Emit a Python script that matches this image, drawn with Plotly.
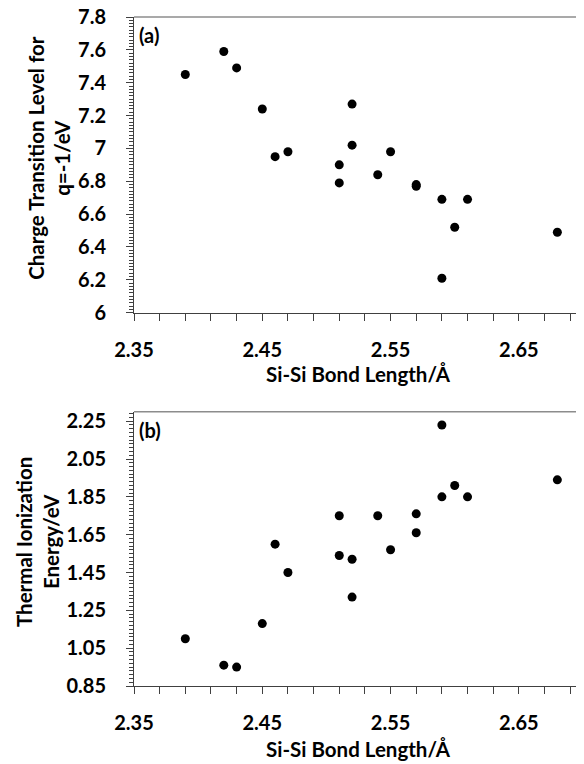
import plotly.graph_objects as go

# Si-Si bond length (Å), shared by both panels
bond_length = [2.39, 2.42, 2.43, 2.45, 2.46, 2.47, 2.51, 2.51, 2.52, 2.52,
               2.54, 2.55, 2.57, 2.57, 2.59, 2.59, 2.60, 2.61, 2.68]

# (a) charge transition level for q=-1 (eV)
transition_level = [7.45, 7.59, 7.49, 7.24, 6.95, 6.98, 6.90, 6.79, 7.27, 7.02,
                    6.84, 6.98, 6.78, 6.77, 6.69, 6.21, 6.52, 6.69, 6.49]

# (b) thermal ionization energy (eV)
ionization_energy = [1.10, 0.96, 0.95, 1.18, 1.60, 1.45, 1.75, 1.54, 1.52, 1.32,
                     1.75, 1.57, 1.76, 1.66, 2.23, 1.85, 1.91, 1.85, 1.94]

FONT = "Lato"
AXIS_COLOR = "#404040"
TICK_FONT = dict(family=FONT, size=20, color="black", weight="bold")
TITLE_FONT = dict(family=FONT, size=20.5, color="black", weight="bold")

fig = go.Figure()
fig.add_trace(go.Scatter(x=bond_length, y=transition_level, mode="markers",
                         marker=dict(color="black", size=9), xaxis="x", yaxis="y"))
fig.add_trace(go.Scatter(x=bond_length, y=ionization_energy, mode="markers",
                         marker=dict(color="black", size=9), xaxis="x2", yaxis="y2"))

xaxis_common = dict(
    range=[2.35, 2.70], tick0=2.35, dtick=0.1, tickformat=".2f",
    ticks="outside", ticklen=7, tickcolor=AXIS_COLOR,
    minor=dict(dtick=0.02, tick0=2.35, ticks="outside", ticklen=7, tickcolor=AXIS_COLOR),
    showline=True, linecolor=AXIS_COLOR, showgrid=False, zeroline=False,
    tickfont=TICK_FONT, ticklabelstandoff=12, automargin=False,
    ticklabeloverflow="allow",
)
yaxis_common = dict(
    ticks="outside", ticklen=7, tickcolor=AXIS_COLOR,
    showline=True, linecolor=AXIS_COLOR, showgrid=False, zeroline=False,
    tickfont=TICK_FONT, ticklabelstandoff=16, automargin=False,
    ticklabeloverflow="allow",
)

# the page body has an 8px default margin, so the figure is 8px smaller
fig.update_layout(
    width=576, height=756,
    margin=dict(l=126, r=1, t=9, b=78),
    paper_bgcolor="white", plot_bgcolor="white",
    showlegend=False,
    xaxis=dict(xaxis_common, anchor="y"),
    yaxis=dict(yaxis_common, domain=[0.558, 1], range=[6, 7.8], dtick=0.2,
               tickformat="~g",
               minor=dict(dtick=0.02, ticks="outside", ticklen=4, tickcolor=AXIS_COLOR)),
    xaxis2=dict(xaxis_common, anchor="y2"),
    yaxis2=dict(yaxis_common, domain=[0, 0.410], range=[0.85, 2.30], tick0=0.85, dtick=0.2,
                tickformat=".2f",
                minor=dict(dtick=0.02, tick0=0.85, ticks="outside", ticklen=4, tickcolor=AXIS_COLOR)),
)

# plot frame: grey top edge, dark right edge
for xref, yref in [("x domain", "y domain"), ("x2 domain", "y2 domain")]:
    fig.add_shape(type="line", xref=xref, yref=yref, x0=0, x1=1, y0=1, y1=1,
                  line=dict(color="#8c8c8c", width=1.5))
    fig.add_shape(type="line", xref=xref, yref=yref, x0=1, x1=1, y0=0, y1=1,
                  line=dict(color="#1a1a1a", width=1.5))

# axis titles placed as annotations (paper coordinates)
titles = [
    ("Charge Transition Level for<br>q=-1/eV", -0.19, 0.789, -90),
    ("Thermal Ionization<br>Energy/eV", -0.216, 0.2152, -90),
    ("Si-Si Bond Length/Å", 0.5, 0.4664, 0),
    ("Si-Si Bond Length/Å", 0.5, -0.0942, 0),
]
for text, x, y, angle in titles:
    fig.add_annotation(text=text, xref="paper", yref="paper", x=x, y=y,
                       xanchor="center", yanchor="middle", textangle=angle,
                       showarrow=False, font=TITLE_FONT)

for label, xref, yref in [("(a)", "x domain", "y domain"), ("(b)", "x2 domain", "y2 domain")]:
    fig.add_annotation(text=label, xref=xref, yref=yref, x=0.006, y=0.985,
                       xanchor="left", yanchor="top", showarrow=False,
                       font=dict(family=FONT, size=20, color="black", weight="bold"))

fig.write_html("out.html")
